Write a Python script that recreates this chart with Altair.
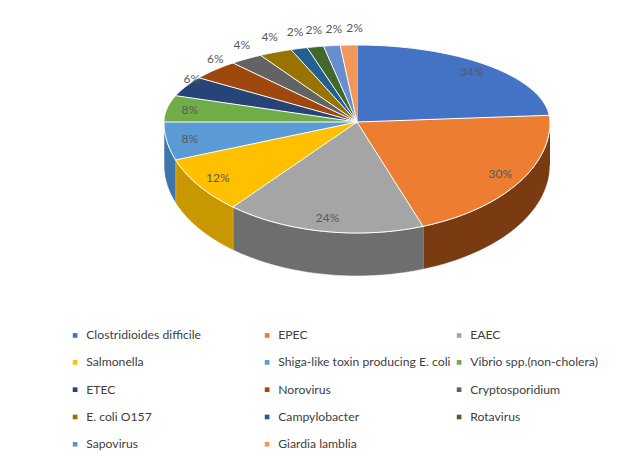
import altair as alt
import pandas as pd

categories = [
    "Clostridioides difficile", "EPEC", "EAEC", "Salmonella",
    "Shiga-like toxin producing E. coli", "Vibrio spp.(non-cholera)",
    "ETEC", "Norovirus", "Cryptosporidium", "E. coli O157",
    "Campylobacter", "Rotavirus", "Sapovirus", "Giardia lamblia",
]
values = [34, 30, 24, 12, 8, 8, 6, 6, 4, 4, 2, 2, 2, 2]

top_colors = ["#4472C4", "#ED7D31", "#A5A5A5", "#FFC000", "#5B9BD5", "#70AD47",
              "#264478", "#9E480E", "#636363", "#997300", "#255E91", "#43682B",
              "#698ED0", "#F1975A"]
side_colors = ["#2F5597", "#7A3A12", "#6E6E6E", "#C99700", "#3E76AA", "#4E7A31",
               "#1A2F54", "#6E320A", "#454545", "#6B5000", "#1A4266", "#2F491E",
               "#4A64A0", "#B86E3F"]

df = pd.DataFrame({"category": categories, "value": values, "k": list(range(len(values)))})

W, H = 604, 445
CX, CY, RX, RYT, RYB, D = 349, 114, 193, 77, 111, 43
N = 40

font = "Lato, sans-serif"

base = alt.Chart(df).transform_joinaggregate(
    total="sum(value)"
).transform_window(
    cum="sum(value)", sort=[alt.SortField("k")], frame=[None, 0]
).transform_calculate(
    a0="(datum.cum - datum.value) / datum.total * 2 * PI",
    a1="datum.cum / datum.total * 2 * PI",
)

def ry(ang):
    return f"(cos({ang}) > 0 ? {RYT} : {RYB})"

xs = alt.X("px:Q", scale=alt.Scale(domain=[0, W]), axis=None)
ys = alt.Y("py:Q", scale=alt.Scale(domain=[0, H], reverse=True), axis=None)

# side strips (front half only)
side = base.transform_calculate(
    b0="max(datum.a0, PI/2)", b1="min(datum.a1, 3*PI/2)"
).transform_filter(
    "datum.b1 > datum.b0"
).transform_calculate(
    seq=f"sequence(0, {2 * N + 2})"
).transform_flatten(["seq"]).transform_calculate(
    ang=f"datum.seq <= {N} ? datum.b0 + (datum.b1 - datum.b0) * datum.seq / {N} : datum.b1 - (datum.b1 - datum.b0) * (datum.seq - {N + 1}) / {N}",
).transform_calculate(
    px=f"{CX} + {RX} * sin(datum.ang)",
    py=f"{CY} - {ry('datum.ang')} * cos(datum.ang) + (datum.seq <= {N} ? 0 : {D})",
    sidekey="datum.category + ' side'",
).mark_line(stroke="white", strokeWidth=0.7, strokeOpacity=0.8).encode(
    x=xs, y=ys,
    fill=alt.Fill("sidekey:N",
                  scale=alt.Scale(domain=[c + " side" for c in categories], range=side_colors),
                  legend=None),
    order=alt.Order("seq:Q"),
    detail="sidekey:N",
)

# top faces
top = base.transform_calculate(
    seq=f"sequence(0, {N + 2})"
).transform_flatten(["seq"]).transform_calculate(
    ang=f"datum.a0 + (datum.a1 - datum.a0) * (datum.seq - 1) / {N}"
).transform_calculate(
    px=f"datum.seq == 0 ? {CX} : {CX} + {RX} * sin(datum.ang)",
    py=f"datum.seq == 0 ? {CY} : {CY} - {ry('datum.ang')} * cos(datum.ang)",
).mark_line(stroke="white", strokeWidth=1).encode(
    x=xs, y=ys,
    fill=alt.Fill("category:N",
                  scale=alt.Scale(domain=categories, range=top_colors),
                  legend=alt.Legend(
                      title=None, orient="none", legendX=61, legendY=321,
                      direction="horizontal",
                      columns=3, gridAlign="all", columnPadding=2,
                      symbolType="square", symbolSize=22, symbolStrokeWidth=0,
                      labelFont=font, labelFontSize=12.2, labelColor="#404040",
                      labelLimit=300, rowPadding=14.3, labelOffset=5,
                  )),
    order=alt.Order("seq:Q"),
    detail="category:N",
)

labels = base.transform_calculate(
    mid="(datum.a0 + datum.a1) / 2",
).transform_calculate(
    fx="datum.value >= 8 ? 0.88 : 1.0 + 0.25 * pow(max(0, cos(datum.mid)), 4)",
    fy="datum.value >= 8 ? 0.88 : 1.22",
    sh="datum.value >= 8 ? 0 : 8",
).transform_calculate(
    px=f"{CX} + datum.sh + {RX} * datum.fx * sin(datum.mid)",
    py=f"{CY} - {ry('datum.mid')} * datum.fy * cos(datum.mid)",
    label="datum.value + '%'",
).mark_text(font=font, fontSize=12, color="#595959").encode(
    x=xs, y=ys, text="label:N",
)

chart = alt.layer(side, top, labels).resolve_scale(fill="independent").properties(
    width=W, height=H, autosize=alt.AutoSizeParams(type="none"), padding=0,
).configure_view(stroke=None)

chart.save("out.html", embed_options={"renderer": "svg", "actions": False})
